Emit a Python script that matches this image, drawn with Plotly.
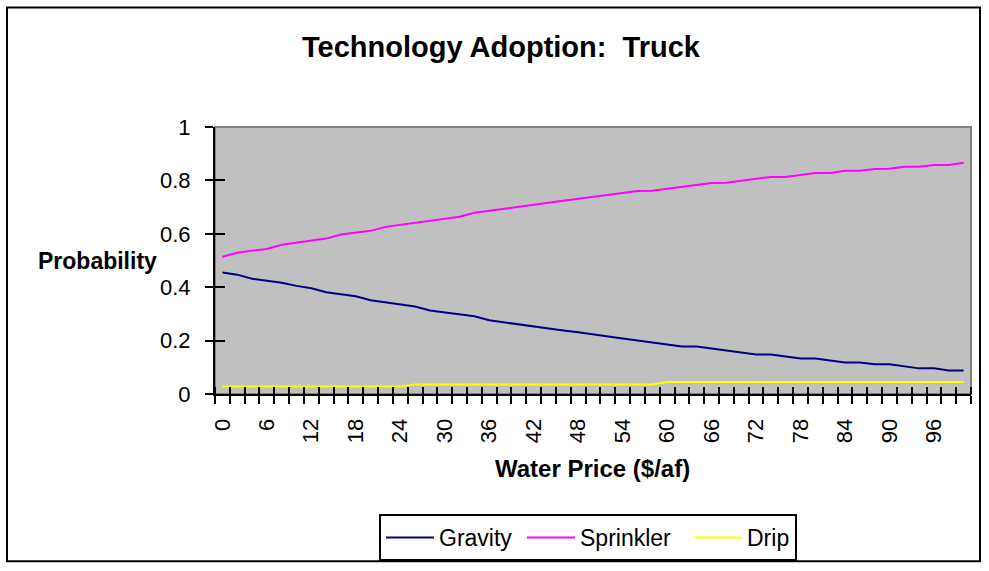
import plotly.graph_objects as go

# ---- data ----
water_price = [0, 2, 4, 6, 8, 10, 12, 14, 16, 18, 20, 22, 24, 26, 28, 30, 32, 34, 36, 38,
               40, 42, 44, 46, 48, 50, 52, 54, 56, 58, 60, 62, 64, 66, 68, 70, 72, 74, 76, 78,
               80, 82, 84, 86, 88, 90, 92, 94, 96, 98, 100]

gravity = [0.455, 0.447, 0.432, 0.424, 0.417, 0.405, 0.396, 0.381, 0.373, 0.366,
           0.351, 0.343, 0.336, 0.328, 0.313, 0.306, 0.298, 0.291, 0.276, 0.268,
           0.261, 0.253, 0.246, 0.238, 0.231, 0.224, 0.215, 0.208, 0.200, 0.193,
           0.185, 0.178, 0.178, 0.171, 0.163, 0.156, 0.148, 0.148, 0.141, 0.133,
           0.133, 0.126, 0.118, 0.118, 0.111, 0.111, 0.103, 0.096, 0.096, 0.088, 0.088]

sprinkler = [0.514, 0.529, 0.537, 0.543, 0.559, 0.567, 0.574, 0.582, 0.597, 0.604,
             0.611, 0.626, 0.634, 0.641, 0.649, 0.656, 0.664, 0.679, 0.686, 0.694,
             0.701, 0.709, 0.716, 0.724, 0.731, 0.737, 0.745, 0.752, 0.760, 0.761,
             0.768, 0.776, 0.783, 0.790, 0.791, 0.798, 0.806, 0.813, 0.813, 0.821,
             0.828, 0.828, 0.836, 0.836, 0.843, 0.844, 0.851, 0.851, 0.858, 0.858, 0.866]

drip = [0.028] * 13 + [0.036] * 17 + [0.045] * 21

x_tick_values = [0, 6, 12, 18, 24, 30, 36, 42, 48, 54, 60, 66, 72, 78, 84, 90, 96]
x_tick_labels = ["0", "6", "12", "18", "24", "30", "36", "42", "48", "54", "60",
                 "66", "72", "78", "84", "90", "96"]
y_tick_values = [0, 0.2, 0.4, 0.6, 0.8, 1]
y_tick_labels = ["0", "0.2", "0.4", "0.6", "0.8", "1"]

FONT = "Liberation Sans, Arial, sans-serif"

fig = go.Figure()
fig.add_trace(go.Scatter(x=water_price, y=gravity, mode="lines", name="Gravity",
                         line=dict(color="#000080", width=2), legendwidth=78))
fig.add_trace(go.Scatter(x=water_price, y=sprinkler, mode="lines", name="Sprinkler",
                         line=dict(color="#FF00FF", width=2), legendwidth=104))
fig.add_trace(go.Scatter(x=water_price, y=drip, mode="lines", name="Drip",
                         line=dict(color="#FFFF00", width=2)))
# empty trace that only anchors the overlay axes used for the inner half of cross ticks
fig.add_trace(go.Scatter(x=[], y=[], xaxis="x2", yaxis="y2", showlegend=False,
                         hoverinfo="skip"))

L, R, T, B = 215, 18, 127, 176
W, H = 989, 571
pw, ph = W - L - R, H - T - B

def px(xp):
    return (xp - L) / pw

def py(yp):
    return (H - B - yp) / ph

fig.update_layout(
    width=W, height=H,
    margin=dict(l=L, r=R, t=T, b=B),
    paper_bgcolor="white",
    plot_bgcolor="#C0C0C0",
    font=dict(family=FONT, color="black", size=22),
    showlegend=True,
    legend=dict(orientation="h", x=px(379), y=py(514), xanchor="left", yanchor="top",
                bordercolor="black", borderwidth=2, bgcolor="white",
                font=dict(family=FONT, size=23), itemwidth=48,
                traceorder="normal"),
    xaxis=dict(range=[-1, 101], tickmode="array", tickvals=x_tick_values,
               ticktext=x_tick_labels, tickangle=-90, ticks="", showgrid=False,
               zeroline=False, showline=True, linecolor="black", linewidth=2,
               tickfont=dict(family=FONT, size=22), ticklabelstandoff=14,
               minor=dict(ticks="outside", tick0=-1, dtick=2, ticklen=8,
                          tickwidth=2, tickcolor="black", showgrid=False)),
    yaxis=dict(range=[0, 1], tickmode="array", tickvals=y_tick_values,
               ticktext=y_tick_labels, ticks="outside", ticklen=8, tickwidth=2,
               tickcolor="black", showgrid=False, zeroline=False, showline=True,
               linecolor="black", linewidth=2, ticklabelstandoff=10,
               tickfont=dict(family=FONT, size=22)),
    xaxis2=dict(overlaying="x", anchor="y2", range=[-1, 101], showticklabels=False,
                ticks="", showgrid=False, zeroline=False, showline=False,
                minor=dict(ticks="inside", tick0=-1, dtick=2, ticklen=7,
                           tickwidth=2, tickcolor="black", showgrid=False)),
    yaxis2=dict(overlaying="y", anchor="x2", side="left", range=[0, 1], tickmode="array",
                tickvals=y_tick_values, showticklabels=False, ticks="inside",
                ticklen=10, tickwidth=2, tickcolor="black", showgrid=False,
                zeroline=False, showline=False),
    shapes=[
        dict(type="rect", xref="x domain", yref="y domain", x0=0, x1=1, y0=0, y1=1,
             line=dict(color="#808080", width=2), layer="below"),
        dict(type="rect", xref="paper", yref="paper", x0=px(7), x1=px(980),
             y0=py(563), y1=py(7), line=dict(color="black", width=2)),
    ],
    annotations=[
        dict(text="<b>Technology Adoption:  Truck</b>", xref="paper", yref="paper",
             x=px(501), y=py(47), xanchor="center", yanchor="middle", showarrow=False,
             font=dict(family=FONT, size=29)),
        dict(text="<b>Probability</b>", xref="paper", yref="paper",
             x=px(36), y=py(262), xanchor="left", yanchor="middle", showarrow=False,
             font=dict(family=FONT, size=23)),
        dict(text="<b>Water Price ($/af)</b>", xref="paper", yref="paper",
             x=px(592), y=py(470), xanchor="center", yanchor="middle", showarrow=False,
             font=dict(family=FONT, size=24)),
    ],
)

fig.write_html("out.html", config={"displayModeBar": False},
               post_script="document.body.style.margin='0';")
